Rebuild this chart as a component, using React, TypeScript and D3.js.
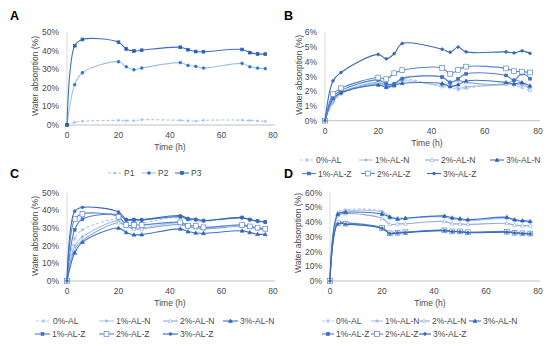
import React from 'react';
import * as d3 from 'd3';

// sampling times (h)
const times = [0, 3, 6, 20, 23, 26, 29, 44, 47, 50, 53, 68, 71, 74, 77];

// panel A
const aP1 = [0, 1.5, 2.0, 2.5, 2.3, 2.3, 2.8, 2.5, 2.3, 2.1, 2.5, 2.6, 2.4, 2.2, 2.0];
const aP2 = [0, 21.7, 28.1, 34.0, 31.3, 29.7, 30.6, 33.5, 32.0, 31.5, 30.6, 33.1, 31.3, 30.6, 30.3];
const aP3 = [0, 42.6, 46.0, 44.5, 40.9, 39.8, 40.2, 41.8, 40.5, 39.5, 39.4, 40.6, 38.9, 38.2, 38.1];

// panel B
const b0AL = [0, 1.2, 1.8, 2.5, 2.3, 2.3, 2.8, 2.3, 2.3, 2.1, 2.2, 2.5, 2.4, 2.25, 2.05];
const b1ALN = [0, 1.3, 1.85, 2.5, 2.35, 2.4, 2.7, 2.4, 2.5, 2.2, 2.3, 2.45, 2.5, 2.4, 2.2];
const b2ALN = [0, 1.4, 1.9, 2.6, 2.4, 2.5, 2.9, 2.95, 2.6, 2.75, 2.6, 2.5, 2.75, 2.6, 2.1];
const b3ALN = [0, 1.5, 1.9, 2.43, 2.27, 2.4, 2.54, 2.52, 2.32, 2.45, 2.7, 2.6, 2.5, 2.58, 2.37];
const b1ALZ = [0, 1.6, 2.05, 2.77, 2.5, 2.5, 2.85, 2.97, 2.6, 2.84, 3.18, 3.07, 2.74, 3.2, 2.85];
const b2ALZ = [0, 1.8, 2.2, 2.93, 2.82, 3.22, 3.43, 3.58, 3.18, 3.45, 3.67, 3.55, 3.36, 3.33, 3.27];
const b3ALZ = [0, 2.7, 3.27, 4.5, 4.2, 4.55, 5.24, 4.85, 4.65, 5.0, 4.67, 4.67, 4.6, 4.74, 4.57];

// panel C
const c0AL = [0, 24, 29, 35, 33, 33, 33, 36, 34.5, 34, 33.5, 36, 34.5, 33.5, 33];
const c1ALN = [0, 20, 25, 34, 31, 30, 30, 33, 31, 30.5, 30, 32, 31, 30, 29.5];
const c2ALN = [0, 18, 23, 33, 31, 29.5, 29.5, 32, 30.5, 30, 29.5, 31, 30.5, 29.5, 29];
const c3ALN = [0, 16, 22, 30, 27.5, 26.2, 26.3, 29.5, 28, 27.2, 27, 28.4, 27.5, 26.5, 26.4];
const c1ALZ = [0, 29, 35, 37.5, 34.5, 34.5, 34.5, 36.4, 35, 34.8, 34.2, 36, 34.8, 34, 33.4];
const c2ALZ = [0, 35, 38, 36.4, 31.7, 31.7, 31.7, 33.2, 31.3, 31.3, 30.4, 31.7, 30.9, 30.2, 29.6];
const c3ALZ = [0, 39.5, 41.7, 39.1, 34.9, 34.9, 34.7, 37, 35.5, 34.9, 34.3, 35.7, 34.7, 34, 33.4];

// panel D
const d0AL = [0, 46.5, 48.3, 47.3, 42.5, 43, 43, 44, 42.5, 42, 41.5, 43, 41.5, 41, 40.5];
const d1ALN = [0, 45.5, 47.5, 47, 44, 42, 42.5, 43.5, 42, 41.5, 41, 42.5, 41, 40.5, 40];
const d2ALN = [0, 44.5, 45.8, 42.6, 38.5, 38.8, 38.9, 40.5, 39, 38.8, 38.5, 39.1, 38, 37.6, 37.5];
const d3ALN = [0, 45.3, 46.7, 45.5, 43.5, 42.1, 42.6, 44.2, 43, 42.4, 41.7, 43.3, 41.7, 41, 40.5];
const d1ALZ = [0, 39.5, 39.5, 36.2, 32.6, 33, 33.2, 34.6, 33.9, 33.8, 33.2, 33.8, 33, 32.6, 32.4];
const d2ALZ = [0, 39.2, 39, 36, 32.4, 32.8, 33.1, 34.4, 33.7, 33.7, 33.1, 33.5, 32.8, 32.4, 32.2];
const d3ALZ = [0, 38.8, 38.6, 35.8, 32.2, 32.6, 32.9, 34.2, 33.5, 33.4, 32.8, 33.2, 32.6, 32.2, 32];

const xTicks = [0, 20, 40, 60, 80];
const groupNames = ['0%-AL', '1%-AL-N', '2%-AL-N', '3%-AL-N', '1%-AL-Z', '2%-AL-Z', '3%-AL-Z'];

const FONT = 'Liberation Sans, Arial, sans-serif';
const TXT = '#4a4a4a';

type Shape = 'circle' | 'square' | 'triangle' | 'plus' | 'diamond';
interface Series { name: string; values: number[]; color: string; mark: string; dash?: string; shape: Shape; open?: boolean; size?: number }

const groupStyle = [
  { color: '#b4c9ea', mark: '#b4c9ea', dash: '3,2', shape: 'circle' as Shape },
  { color: '#a9c1e8', mark: '#8fb0e0', shape: 'plus' as Shape },
  { color: '#8eabdc', mark: '#8eabdc', shape: 'triangle' as Shape, open: true },
  { color: '#3f74c8', mark: '#2c63bd', shape: 'triangle' as Shape },
  { color: '#4d80cc', mark: '#3a70c4', shape: 'square' as Shape },
  { color: '#5a86cc', mark: '#5a86cc', shape: 'square' as Shape, open: true, size: 2.4 },
  { color: '#3a68b8', mark: '#3a68b8', shape: 'circle' as Shape },
];

const mkGroup = (vals: number[][]): Series[] =>
  vals.map((v, i) => ({ name: groupNames[i], values: v, ...groupStyle[i] }));

const seriesA: Series[] = [
  { name: 'P1', values: aP1, color: '#a9c4ea', mark: '#a9c4ea', dash: '3,2', shape: 'diamond' },
  { name: 'P2', values: aP2, color: '#9cc0ea', mark: '#2f72c9', shape: 'circle' },
  { name: 'P3', values: aP3, color: '#3f6fbf', mark: '#2a5fb5', shape: 'square' },
];
const seriesB = mkGroup([b0AL, b1ALN, b2ALN, b3ALN, b1ALZ, b2ALZ, b3ALZ]);
const seriesC = mkGroup([c0AL, c1ALN, c2ALN, c3ALN, c1ALZ, c2ALZ, c3ALZ]);
const seriesD = mkGroup([d0AL, d1ALN, d2ALN, d3ALN, d1ALZ, d2ALZ, d3ALZ]);

const Marker: React.FC<{ s: Series; x: number; y: number }> = ({ s, x, y }) => {
  const r = s.size ?? 1.4;
  const fill = s.open ? '#fff' : s.mark;
  if (s.shape === 'circle') return <circle cx={x} cy={y} r={r} fill={fill} stroke={s.mark} strokeWidth={0.6} />;
  if (s.shape === 'square') return <rect x={x - r} y={y - r} width={2 * r} height={2 * r} fill={fill} stroke={s.mark} strokeWidth={0.7} />;
  if (s.shape === 'diamond') return <path d={`M${x},${y - r - 0.3}L${x + r + 0.3},${y}L${x},${y + r + 0.3}L${x - r - 0.3},${y}Z`} fill={fill} />;
  if (s.shape === 'plus') return <path d={`M${x - r - 0.3},${y}H${x + r + 0.3}M${x},${y - r - 0.3}V${y + r + 0.3}`} stroke={s.mark} strokeWidth={0.9} />;
  return <path d={`M${x},${y - r - 0.6}L${x + r + 0.6},${y + r}L${x - r - 0.6},${y + r}Z`} fill={fill} stroke={s.mark} strokeWidth={0.6} />;
};

interface PanelProps {
  letter: string; lx: number; ly: number;
  x0: number; x1: number; y0: number; y1: number; yMax: number; yStep: number;
  series: Series[];
  titleX: number; titleY: number; yTitleX: number; yTitleY: number;
  legend: { x: number; y: number; w: number }[];
}

const Panel: React.FC<PanelProps> = (p) => {
  const x = d3.scaleLinear().domain([0, 80]).range([p.x0, p.x1]);
  const y = d3.scaleLinear().domain([0, p.yMax]).range([p.y0, p.y1]);
  const line = d3.line<number>().x((_, i) => x(times[i])).y((d) => y(d)).curve(d3.curveCatmullRom.alpha(0.5));
  const yTicks = d3.range(0, p.yMax + p.yStep / 2, p.yStep);
  return (
    <g fontFamily={FONT} fill={TXT}>
      <text x={p.lx} y={p.ly} fontSize={12.5} fontWeight="bold" fill="#000">{p.letter}</text>
      <line x1={p.x0} x2={p.x0} y1={p.y1} y2={p.y0} stroke="#d9d9d9" strokeWidth={1} />
      <line x1={p.x0} x2={p.x1 + 2} y1={p.y0} y2={p.y0} stroke="#bfbfbf" strokeWidth={1} />
      {yTicks.map((t) => (
        <text key={t} x={p.x0 - 8} y={y(t) + 3} fontSize={8.5} textAnchor="end">{`${t}%`}</text>
      ))}
      {xTicks.map((t) => (
        <text key={t} x={x(t)} y={p.y0 + 13} fontSize={8.5} textAnchor="middle">{t}</text>
      ))}
      <text x={p.titleX} y={p.titleY} fontSize={8.5} textAnchor="middle">Time (h)</text>
      <text transform={`translate(${p.yTitleX},${p.yTitleY}) rotate(-90)`} fontSize={8.5} textAnchor="middle">Water absorption (%)</text>
      {p.series.map((s) => (
        <g key={s.name}>
          <path d={line(s.values) || ''} fill="none" stroke={s.color} strokeWidth={1.1} strokeDasharray={s.dash} />
          {s.values.map((v, i) => <Marker key={i} s={s} x={x(times[i])} y={y(v)} />)}
        </g>
      ))}
      {p.series.map((s, i) => {
        const L = p.legend[i];
        return (
          <g key={'lg' + s.name}>
            <line x1={L.x} x2={L.x + L.w} y1={L.y} y2={L.y} stroke={s.color} strokeWidth={1.1} strokeDasharray={s.dash} />
            <Marker s={s} x={L.x + L.w / 2} y={L.y} />
            <text x={L.x + L.w + 2} y={L.y + 3} fontSize={8.5}>{s.name}</text>
          </g>
        );
      })}
    </g>
  );
};

const rowLegend = (xs: number[], ys: number[], w: number) => xs.map((xx, i) => ({ x: xx, y: ys[i], w }));

export default function App() {
  return (
    <svg width={550} height={344} style={{ position: 'absolute', left: 0, top: 0, background: '#fff' }}>
      <Panel letter="A" lx={10} ly={20} x0={67} x1={273} y0={125} y1={32} yMax={50} yStep={10} series={seriesA}
        titleX={170} titleY={150} yTitleX={38} yTitleY={76}
        legend={rowLegend([108, 142, 175], [173, 173, 173], 14)} />
      <Panel letter="B" lx={284} ly={20} x0={325} x1={538} y0={120.7} y1={32.3} yMax={6} yStep={1} series={seriesB}
        titleX={427} titleY={146} yTitleX={302} yTitleY={75}
        legend={rowLegend([300, 359, 425, 490, 302, 361, 427], [160, 160, 160, 160, 173.5, 173.5, 173.5], 14)} />
      <Panel letter="C" lx={10} ly={178} x0={67} x1={273} y0={281} y1={192.7} yMax={50} yStep={10} series={seriesC}
        titleX={170} titleY={306} yTitleX={38} yTitleY={236}
        legend={rowLegend([36, 99, 163, 223, 35, 99, 163], [321, 321, 321, 321, 334, 334, 334], 15)} />
      <Panel letter="D" lx={284} ly={178} x0={330} x1={538} y0={281} y1={192.7} yMax={60} yStep={10} series={seriesD}
        titleX={430} titleY={306} yTitleX={301} yTitleY={233}
        legend={rowLegend([322, 371, 418, 469, 322, 371, 419], [321, 321, 321, 321, 334, 334, 334], 12)} />
    </svg>
  );
}
